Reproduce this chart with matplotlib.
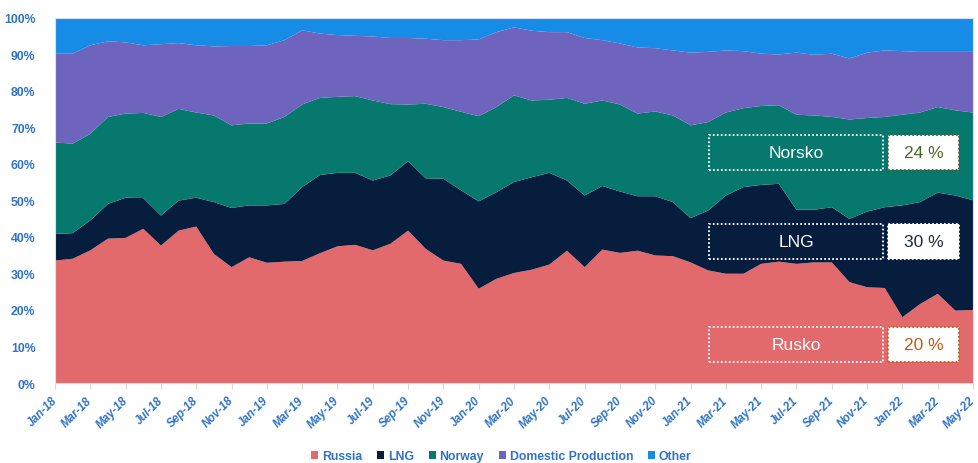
import numpy as np
import pandas as pd
import matplotlib
matplotlib.use("Agg")
import matplotlib.pyplot as plt
from matplotlib.patches import Rectangle

# monthly supply shares (%), Jan-18 .. May-22
months = pd.date_range("2018-01-01", "2022-05-01", freq="MS").strftime("%b-%y").tolist()
russia = [33.5, 34.0, 36.3, 39.5, 39.7, 42.2, 37.6, 41.7, 42.8, 35.3, 31.7, 34.4, 32.9, 33.2,
          33.4, 35.5, 37.4, 37.8, 36.3, 38.1, 41.7, 36.7, 33.5, 32.6, 25.8, 28.5, 30.1, 31.0,
          32.4, 36.2, 31.7, 36.5, 35.6, 36.2, 34.9, 34.7, 33.0, 30.8, 29.9, 29.9, 32.6, 33.2,
          32.6, 33.0, 33.0, 27.6, 26.2, 26.0, 18.0, 21.6, 24.4, 19.8, 20.0]
lng = [7.3, 7.0, 8.2, 9.5, 11.0, 8.4, 8.2, 8.2, 7.9, 14.2, 16.2, 14.2, 15.7, 15.8,
       20.2, 21.4, 20.1, 19.7, 19.1, 18.7, 19.0, 19.3, 22.4, 20.1, 23.9, 23.7, 24.9, 25.3,
       25.1, 19.2, 19.6, 17.4, 16.8, 14.9, 16.2, 14.8, 12.1, 16.4, 21.4, 23.7, 21.6, 21.3,
       14.8, 14.4, 15.1, 17.3, 20.7, 22.1, 30.6, 27.9, 27.7, 31.5, 30.0]
norway = [25.0, 24.5, 23.7, 23.8, 23.0, 23.3, 27.0, 25.1, 23.3, 23.7, 22.6, 22.4, 22.4, 23.8,
          22.6, 21.1, 20.8, 21.0, 21.9, 19.5, 15.5, 20.4, 19.6, 21.5, 23.3, 23.3, 23.7, 21.0,
          20.0, 22.6, 25.1, 23.4, 23.8, 22.6, 23.2, 23.7, 25.4, 24.2, 22.7, 21.6, 21.6, 21.5,
          26.0, 25.8, 24.7, 27.2, 25.6, 24.7, 24.8, 24.5, 23.4, 23.3, 24.0]
domestic = [24.3, 24.6, 24.2, 20.7, 19.5, 18.5, 19.9, 18.0, 18.4, 18.9, 21.7, 21.2, 21.4, 21.0,
            20.3, 17.6, 16.9, 16.5, 17.5, 18.1, 18.2, 17.8, 18.3, 19.6, 21.0, 20.5, 18.6, 19.1,
            18.5, 18.0, 18.0, 16.5, 16.7, 18.1, 17.3, 17.8, 19.9, 19.2, 17.0, 15.6, 14.3, 13.9,
            17.0, 16.6, 17.3, 16.7, 17.9, 18.2, 17.4, 16.6, 15.1, 16.0, 16.6]
other = [9.9, 9.9, 7.6, 6.5, 6.8, 7.6, 7.3, 7.0, 7.6, 7.9, 7.8, 7.8, 7.6, 6.2,
         3.5, 4.4, 4.8, 5.0, 5.2, 5.6, 5.6, 5.8, 6.2, 6.2, 6.0, 4.0, 2.7, 3.6,
         4.0, 4.0, 5.6, 6.2, 7.1, 8.2, 8.4, 9.0, 9.6, 9.4, 9.0, 9.2, 9.9, 10.1,
         9.6, 10.2, 9.9, 11.2, 9.6, 9.0, 9.2, 9.4, 9.4, 9.4, 9.4]

series = ["Russia", "LNG", "Norway", "Domestic Production", "Other"]
colors = ["#E36A6C", "#071D3D", "#06786D", "#6E64BE", "#168CE6"]

# callouts for the latest month: (label, share, text colour of the value)
callouts = [("Norsko", norway[-1], "#4F6228"),
            ("LNG", lng[-1], "#1F2A3A"),
            ("Rusko", russia[-1], "#C55A11")]

plt.rcParams["font.family"] = ["Liberation Sans", "DejaVu Sans"]
fig = plt.figure(figsize=(9.79, 4.64), dpi=100)
ax = fig.add_axes([0.0562, 0.1724, 0.9377, 0.7877])

x = np.arange(len(months))
ax.stackplot(x, russia, lng, norway, domestic, other, colors=colors,
             labels=series, linewidth=0)
ax.set_xlim(0, len(months) - 1)
ax.set_ylim(0, 100)
ax.set_yticks(np.arange(0, 101, 10))
ax.set_yticklabels([f"{v}%" for v in range(0, 101, 10)])
ax.set_xticks(x[::2])
ax.set_xticklabels(months[::2], rotation=45, ha="right", va="center",
                   rotation_mode="anchor", fontstyle="italic")
tick_blue = "#2F73C6"
for lbl in ax.get_yticklabels():
    lbl.set_color(tick_blue)
    lbl.set_fontweight("bold")
    lbl.set_fontsize(8.8)
for lbl in ax.get_xticklabels():
    lbl.set_color(tick_blue)
    lbl.set_fontweight("bold")
    lbl.set_fontsize(8.3)
ax.tick_params(axis="y", length=0, pad=14)
ax.tick_params(axis="x", length=4, color="#D9D9D9", pad=7)
for s in ax.spines.values():
    s.set_color("#D6E4F2")
    s.set_linewidth(0.8)

# dotted callout boxes on the right, in data coords of the last months
bx0, bx1 = 37.05, 46.9
vx0, vx1 = 47.2, 51.2
box_y = [58.3, 34.0, 5.8]
h = 9.5
for (name, val, vcol), y0 in zip(callouts, box_y):
    ax.add_patch(Rectangle((bx0, y0), bx1 - bx0, h, fill=False, ec="white",
                           lw=1.3, ls=(0, (1, 1.2)), zorder=5))
    ax.text((bx0 + bx1) / 2, y0 + h / 2, name, color="white", fontsize=12.5,
            ha="center", va="center", zorder=6)
    edge = vcol if name != "LNG" else "white"
    ax.add_patch(Rectangle((vx0, y0), vx1 - vx0, h, fc="white", ec=edge,
                           lw=1.3, ls=(0, (1, 1.2)), zorder=5))
    ax.text((vx0 + vx1) / 2, y0 + h / 2, f"{val:.0f} %", color=vcol, fontsize=12.5,
            ha="center", va="center", zorder=6)

leg = fig.legend(*ax.get_legend_handles_labels(), loc="center", bbox_to_anchor=(0.512, 0.015),
                 ncol=5, frameon=False, fontsize=8.8, handlelength=0.6, handleheight=0.6,
                 handletextpad=0.3, columnspacing=1.2)
for t in leg.get_texts():
    t.set_color(tick_blue)
    t.set_fontweight("bold")

fig.savefig("out.png", dpi=100)
